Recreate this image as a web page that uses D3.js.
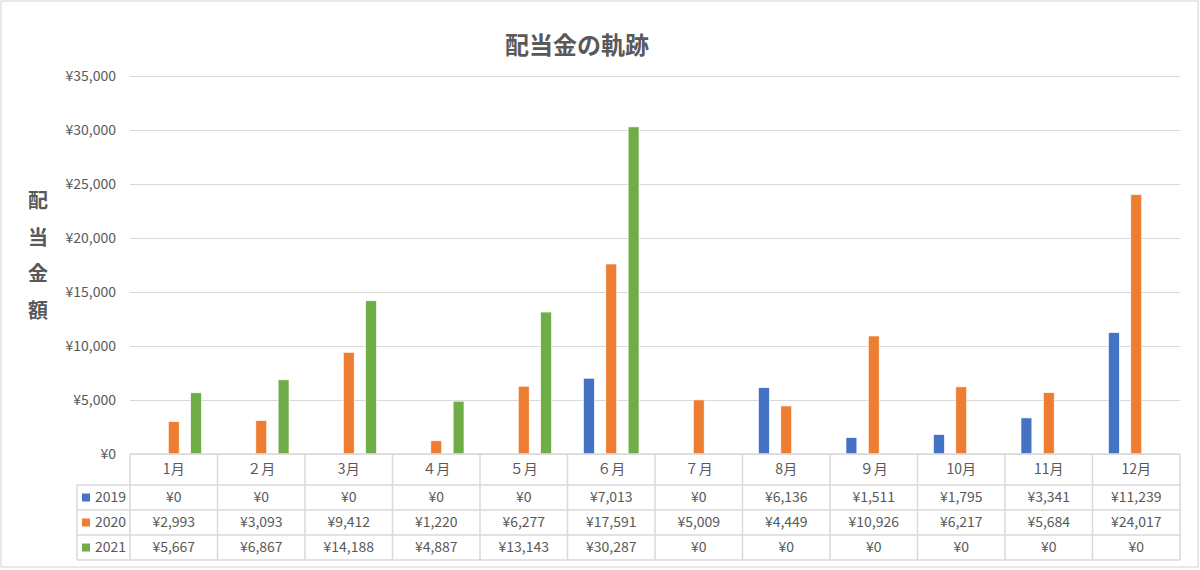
<!DOCTYPE html>
<html><head><meta charset="utf-8">
<script src="https://cdn.jsdelivr.net/npm/d3@7"></script>
<style>
html,body{margin:0;padding:0;background:#fff;}
svg text{font-family:"Noto Sans CJK JP","Noto Sans",sans-serif;}
</style></head>
<body>
<svg id="chart" width="1200" height="570"></svg>
<script>
const months = ["1月","２月","3月","４月","５月","６月","７月","8月","９月","10月","11月","12月"];
const seriesNames = ["2019","2020","2021"];
const seriesColors = ["#4472C4","#ED7D31","#70AD47"];
const values2019 = [0,0,0,0,0,7013,0,6136,1511,1795,3341,11239];
const values2020 = [2993,3093,9412,1220,6277,17591,5009,4449,10926,6217,5684,24017];
const values2021 = [5667,6867,14188,4887,13143,30287,0,0,0,0,0,0];
const yTicks = [0,5000,10000,15000,20000,25000,30000,35000];
const titleText = "配当金の軌跡";
const yTitleChars = ["配","当","金","額"];

(function(){
const seriesValues = [values2019, values2020, values2021];
const svg = d3.select("#chart");
const textColor = "#595959";
const gridColor = "#D9D9D9";
const fmt = v => "¥" + d3.format(",")(v);
const fs = 14;

const pLeft = 130, pRight = 1180, pTop = 76, pBottom = 454;
const x = d3.scaleBand().domain(months).range([pLeft, pRight]).padding(0);
const inner = d3.scaleBand().domain(seriesNames).range([-27.75, 27.75]).paddingInner(0.514).paddingOuter(0);
const y = d3.scaleLinear().domain([0, 35000]).range([pBottom, pTop]);

svg.append("rect").attr("x",1).attr("y",1).attr("width",1197).attr("height",566)
  .attr("fill","#fff").attr("stroke","#D9D9D9").attr("stroke-width",1.2);

svg.append("text").attr("x",577).attr("y",53.5).attr("text-anchor","middle")
  .attr("font-size",24).attr("font-weight","bold").attr("fill",textColor).text(titleText);

svg.append("g").selectAll("text").data(yTitleChars).join("text")
  .attr("x",38).attr("y",(d,i)=>208+i*36.5).attr("text-anchor","middle")
  .attr("font-size",20).attr("font-weight","bold").attr("fill",textColor).text(d=>d);

const yAxis = d3.axisLeft(y).tickValues(yTicks).tickFormat(fmt).tickSize(-(pRight-pLeft)).tickPadding(14);
const gy = svg.append("g").attr("transform",`translate(${pLeft},0)`).call(yAxis);
gy.select(".domain").remove();
gy.selectAll(".tick line").attr("stroke",gridColor).attr("stroke-width",1);
gy.selectAll(".tick text").attr("fill",textColor).attr("font-size",fs);

const barData = [];
months.forEach((m,i)=>seriesNames.forEach((s,j)=>barData.push({m,s,j,v:seriesValues[j][i]})));
svg.append("g").selectAll("rect").data(barData.filter(d=>d.v>0)).join("rect")
  .attr("x",d=>x(d.m)+x.bandwidth()/2+inner(d.s))
  .attr("width",inner.bandwidth())
  .attr("y",d=>y(d.v))
  .attr("height",d=>y(0)-y(d.v))
  .attr("fill",d=>seriesColors[d.j])
  .attr("stroke","#fff").attr("stroke-width",0.6);

const tbl = svg.append("g");
const rowTop = [pBottom, 485, 510, 535, 560];
const legLeft = 77;
tbl.append("line").attr("x1",pLeft).attr("x2",pRight).attr("y1",rowTop[0]).attr("y2",rowTop[0]).attr("stroke",gridColor).attr("stroke-width",1.5);
rowTop.slice(1).forEach(yy=>{
  tbl.append("line").attr("x1",legLeft).attr("x2",pRight).attr("y1",yy).attr("y2",yy).attr("stroke",gridColor).attr("stroke-width",1.5);
});
months.forEach(m=>{
  tbl.append("line").attr("x1",x(m)).attr("x2",x(m)).attr("y1",rowTop[0]).attr("y2",rowTop[4]).attr("stroke",gridColor).attr("stroke-width",1.5);
});
tbl.append("line").attr("x1",pRight).attr("x2",pRight).attr("y1",rowTop[0]).attr("y2",rowTop[4]).attr("stroke",gridColor).attr("stroke-width",1.5);
tbl.append("line").attr("x1",legLeft).attr("x2",legLeft).attr("y1",rowTop[1]).attr("y2",rowTop[4]).attr("stroke",gridColor).attr("stroke-width",1.5);

tbl.selectAll("text.cat").data(months).join("text").attr("class","cat")
  .attr("x",d=>x(d)+x.bandwidth()/2).attr("y",(rowTop[0]+rowTop[1])/2)
  .attr("dy","0.35em").attr("text-anchor","middle").attr("font-size",fs).attr("fill",textColor).text(d=>d);

seriesNames.forEach((s,j)=>{
  const cy = (rowTop[j+1]+rowTop[j+2])/2;
  tbl.append("rect").attr("x",82).attr("y",cy-4).attr("width",8).attr("height",8).attr("fill",seriesColors[j]);
  tbl.append("text").attr("x",95).attr("y",cy).attr("dy","0.35em").attr("font-size",fs).attr("fill",textColor).text(s);
  tbl.append("g").selectAll("text").data(seriesValues[j]).join("text")
    .attr("x",(d,i)=>x(months[i])+x.bandwidth()/2).attr("y",cy).attr("dy","0.35em")
    .attr("text-anchor","middle").attr("font-size",fs).attr("fill",textColor).text(d=>fmt(d));
});
})();
</script>
</body></html>
